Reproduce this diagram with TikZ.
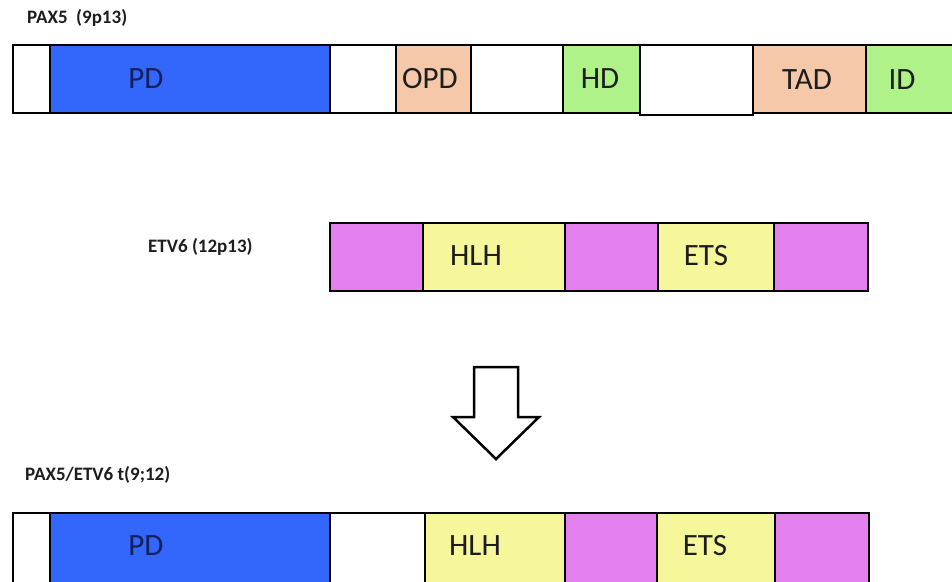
\documentclass[tikz,border=0pt]{standalone}
\usepackage{fontspec}
\setmainfont{Carlito}
\definecolor{pdblue}{HTML}{3366FA}
\definecolor{peach}{HTML}{F5C8AA}
\definecolor{lgreen}{HTML}{B0F28A}
\definecolor{lyellow}{HTML}{F5F79A}
\definecolor{magent}{HTML}{E480EE}
\definecolor{txtdark}{HTML}{1E1E1E}
\definecolor{navytxt}{HTML}{15205A}
\tikzset{
  seg/.style={draw=black, line width=2pt, anchor=north west, inner sep=0pt, outer sep=0pt},
  segtext/.style={font=\fontsize{31}{31}\selectfont, text=txtdark, inner sep=0pt},
  lbl/.style={font=\bfseries\fontsize{19}{19}\selectfont, anchor=west, inner sep=0pt, text=txtdark},
}
\begin{document}
\begin{tikzpicture}[x=1pt,y=-1pt]
\useasboundingbox (0,0) rectangle (952,581);
\fill[white] (0,0) rectangle (952,581);

% labels
\node[lbl] (lpax) at (27,18) {PAX5\ \ (9p13)};
\node[lbl] (letv) at (148,247) {ETV6 (12p13)};
\node[lbl] (lfus) at (25,475) {PAX5/ETV6 t(9;12)};

% PAX5 bar
\node[seg, fill=white, minimum width=37pt, minimum height=68pt] (a1) at (13,45) {};
\node[seg, fill=pdblue, minimum width=280pt, minimum height=68pt] (pd1) at (50,45) {};
\node[seg, fill=white, minimum width=66pt, minimum height=68pt] (a2) at (330,45) {};
\node[seg, fill=peach, minimum width=75pt, minimum height=68pt] (opd) at (396,45) {};
\node[seg, fill=white, minimum width=92pt, minimum height=68pt] (a3) at (471,45) {};
\node[seg, fill=lgreen, minimum width=77pt, minimum height=68pt] (hd) at (563,45) {};
\node[seg, fill=white, minimum width=113pt, minimum height=70pt] (a4) at (640,45) {};
\node[seg, fill=peach, minimum width=113pt, minimum height=68pt] (tad) at (753,45) {};
\node[seg, fill=lgreen, minimum width=95pt, minimum height=68pt] (id) at (866,45) {};

\node[segtext, text=navytxt] (tpd1) at (146,79) {PD};
\node[segtext] (topd) at (430,79) {OPD};
\node[segtext] (thd) at (600,79) {HD};
\node[segtext] (ttad) at (807,80) {TAD};
\node[segtext] (tid) at (902,80) {ID};

% ETV6 bar
\node[seg, fill=magent, minimum width=93pt, minimum height=68pt] (e1) at (330,223) {};
\node[seg, fill=lyellow, minimum width=142pt, minimum height=68pt] (hlh1) at (423,223) {};
\node[seg, fill=magent, minimum width=93pt, minimum height=68pt] (e2) at (565,223) {};
\node[seg, fill=lyellow, minimum width=116pt, minimum height=68pt] (ets1) at (658,223) {};
\node[seg, fill=magent, minimum width=94pt, minimum height=68pt] (e3) at (774,223) {};

\node[segtext] (thlh1) at (476,256) {HLH};
\node[segtext] (tets1) at (706,256) {ETS};

% arrow
\draw[line width=2.5pt, fill=white, line join=miter]
  (474,367) -- (518,367) -- (518,417) -- (539,417) -- (496,459)
  -- (453,417) -- (474,417) -- cycle;

% fusion bar
\node[seg, fill=white, minimum width=37pt, minimum height=72pt] (b1) at (13,513) {};
\node[seg, fill=pdblue, minimum width=280pt, minimum height=72pt] (pd2) at (50,513) {};
\node[seg, fill=white, minimum width=95pt, minimum height=72pt] (b2) at (330,513) {};
\node[seg, fill=lyellow, minimum width=140pt, minimum height=72pt] (hlh2) at (425,513) {};
\node[seg, fill=magent, minimum width=92pt, minimum height=72pt] (b3) at (565,513) {};
\node[seg, fill=lyellow, minimum width=118pt, minimum height=72pt] (ets2) at (657,513) {};
\node[seg, fill=magent, minimum width=94pt, minimum height=72pt] (b4) at (775,513) {};

\node[segtext, text=navytxt] (tpd2) at (146,546) {PD};
\node[segtext] (thlh2) at (475,546) {HLH};
\node[segtext] (tets2) at (705,546) {ETS};
\end{tikzpicture}
\end{document}
